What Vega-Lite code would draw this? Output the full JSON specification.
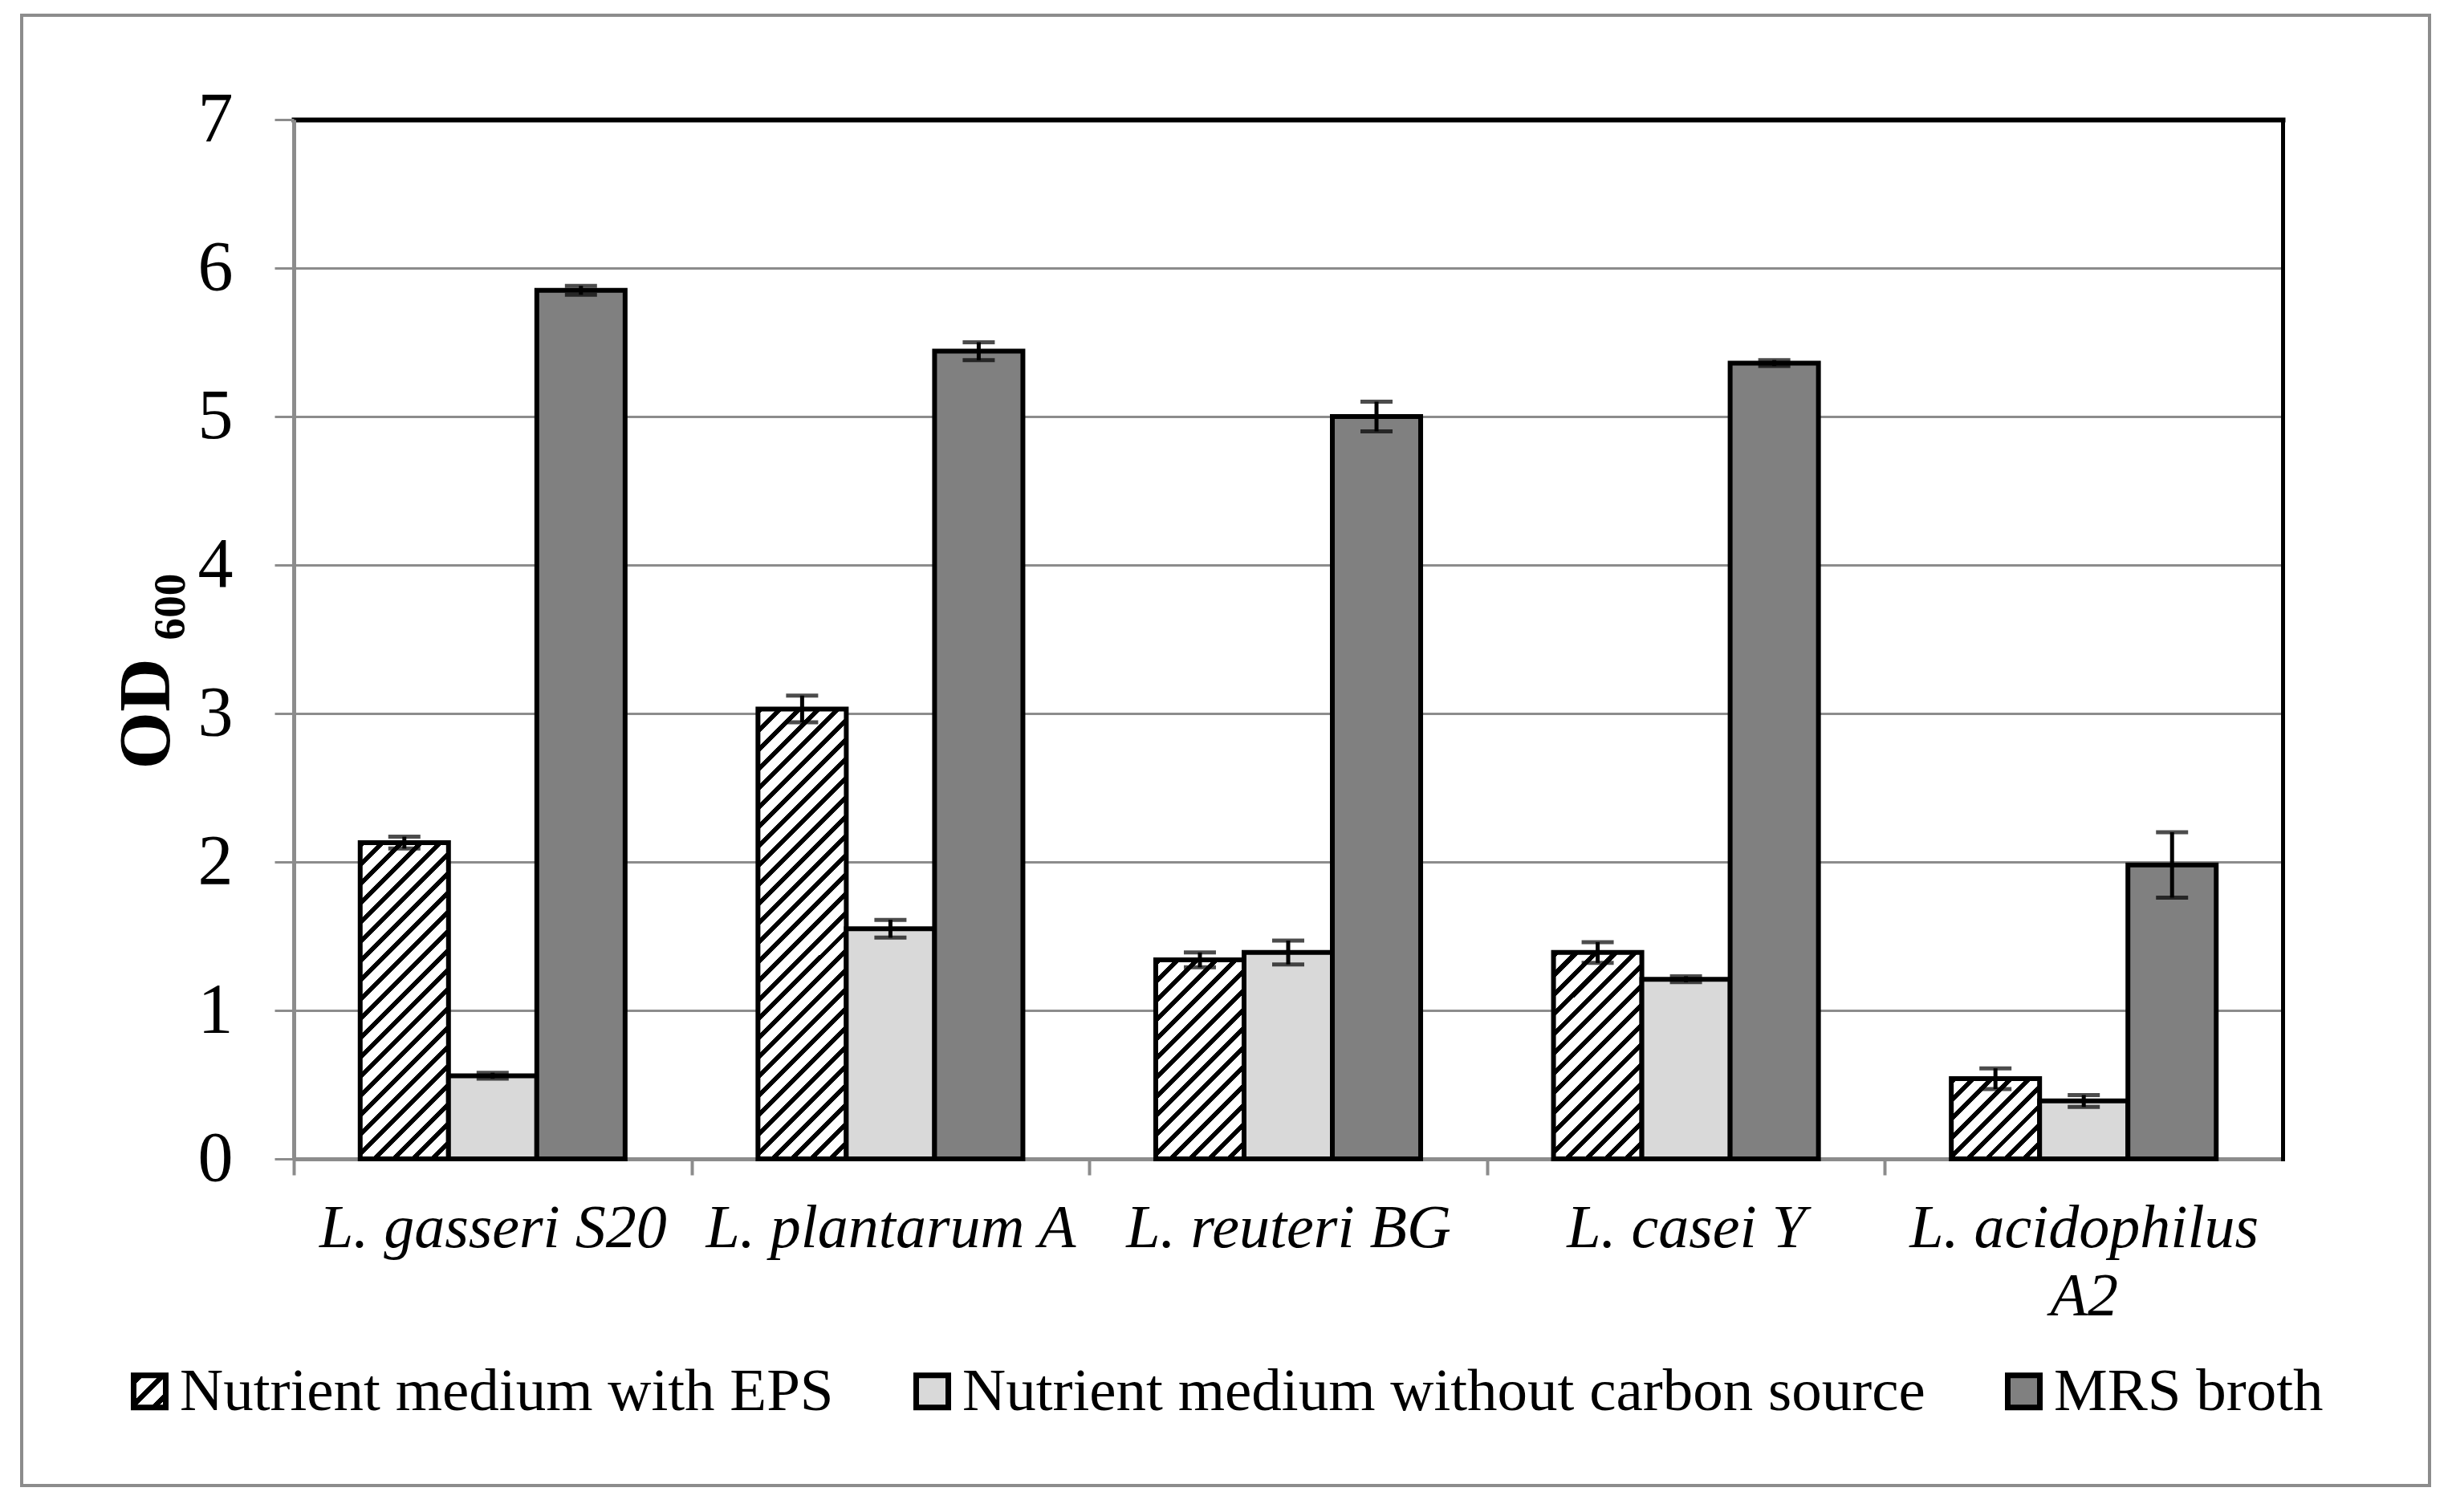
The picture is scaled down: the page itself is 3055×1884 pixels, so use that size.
{
  "$schema": "https://vega.github.io/schema/vega-lite/v6.json",
  "width": 3000,
  "height": 1832,
  "autosize": {"type": "none"},
  "padding": {"left": 27, "top": 19, "right": 28, "bottom": 33},
  "background": "white",
  "config": {
    "view": {"stroke": "#8c8c8c", "strokeWidth": 4},
    "font": "Liberation Serif"
  },
  "data": {
    "values": [
      {"strain": "L. gasseri S20", "series": "Nutrient medium with EPS", "value": 2.13, "lo": 2.09, "hi": 2.17},
      {"strain": "L. gasseri S20", "series": "Nutrient medium without carbon source", "value": 0.56, "lo": 0.54, "hi": 0.58},
      {"strain": "L. gasseri S20", "series": "MRS broth", "value": 5.85, "lo": 5.82, "hi": 5.88},
      {"strain": "L. plantarum A", "series": "Nutrient medium with EPS", "value": 3.03, "lo": 2.94, "hi": 3.12},
      {"strain": "L. plantarum A", "series": "Nutrient medium without carbon source", "value": 1.55, "lo": 1.49, "hi": 1.61},
      {"strain": "L. plantarum A", "series": "MRS broth", "value": 5.44, "lo": 5.38, "hi": 5.5},
      {"strain": "L. reuteri BG", "series": "Nutrient medium with EPS", "value": 1.34, "lo": 1.29, "hi": 1.39},
      {"strain": "L. reuteri BG", "series": "Nutrient medium without carbon source", "value": 1.39, "lo": 1.31, "hi": 1.47},
      {"strain": "L. reuteri BG", "series": "MRS broth", "value": 5.0, "lo": 4.9, "hi": 5.1},
      {"strain": "L. casei Y", "series": "Nutrient medium with EPS", "value": 1.39, "lo": 1.32, "hi": 1.46},
      {"strain": "L. casei Y", "series": "Nutrient medium without carbon source", "value": 1.21, "lo": 1.19, "hi": 1.23},
      {"strain": "L. casei Y", "series": "MRS broth", "value": 5.36, "lo": 5.34, "hi": 5.38},
      {"strain": "L. acidophilus A2", "series": "Nutrient medium with EPS", "value": 0.54, "lo": 0.47, "hi": 0.61},
      {"strain": "L. acidophilus A2", "series": "Nutrient medium without carbon source", "value": 0.39, "lo": 0.35, "hi": 0.43},
      {"strain": "L. acidophilus A2", "series": "MRS broth", "value": 1.98, "lo": 1.76, "hi": 2.2}
    ]
  },
  "layer": [
    {
      "mark": {"type": "bar", "stroke": "black", "strokeWidth": 6},
      "encoding": {
        "x": {
          "field": "strain", "type": "nominal", "sort": null,
          "scale": {"range": [339, 2817], "paddingInner": 0.334, "paddingOuter": 0.167},
          "axis": {
            "orient": "bottom", "offset": -407, "title": null, "grid": false,
            "domainColor": "#8c8c8c", "domainWidth": 5,
            "tickColor": "#8c8c8c", "tickWidth": 4, "tickSize": 20,
            "bandPosition": 0, "tickOffset": -82.76, "labelOffset": 82.76,
            "labelFont": "Liberation Serif", "labelFontSize": 76, "labelFontStyle": "italic",
            "labelColor": "black", "labelPadding": 29, "labelAngle": 0, "labelLimit": 1000,
            "labelOverlap": false, "labelLineHeight": 85,
            "labelExpr": "datum.value == 'L. acidophilus A2' ? ['L. acidophilus', 'A2'] : datum.label"
          }
        },
        "xOffset": {"field": "series", "type": "nominal", "sort": null, "scale": {"paddingInner": 0, "paddingOuter": 0}},
        "y": {
          "field": "value", "type": "quantitative",
          "scale": {"domain": [0, 7], "range": [1425, 130], "nice": false, "zero": true},
          "axis": {
            "orient": "left", "offset": -339, "values": [0, 1, 2, 3, 4, 5, 6, 7],
            "grid": true, "gridColor": "#8c8c8c", "gridWidth": 3,
            "domainColor": "#8c8c8c", "domainWidth": 5,
            "tickColor": "#8c8c8c", "tickWidth": 3, "tickSize": 24,
            "labelFont": "Liberation Serif", "labelFontSize": 88, "labelColor": "black", "labelPadding": 52,
            "title": "OD ₆₀₀", "titleFont": "Liberation Serif", "titleFontSize": 92, "titleFontWeight": "bold",
            "titleColor": "black", "titleX": -156, "titleY": 817, "titleBaseline": "alphabetic",
            "titleAngle": -90, "titleAlign": "center"
          }
        },
        "fill": {
          "condition": [
            {"test": "datum.series === 'Nutrient medium with EPS' && datum.strain === 'L. gasseri S20'",
             "value": {"gradient": "linear", "x1": 0, "y1": 0, "x2": 0.3313, "y2": 1.1867, "stops": [
              {"offset": 0, "color": "#000"}, {"offset": 0.0159, "color": "#000"}, {"offset": 0.0159, "color": "#fff"}, {"offset": 0.0476, "color": "#fff"},
              {"offset": 0.0476, "color": "#000"}, {"offset": 0.0635, "color": "#000"}, {"offset": 0.0635, "color": "#fff"}, {"offset": 0.0952, "color": "#fff"},
              {"offset": 0.0952, "color": "#000"}, {"offset": 0.1111, "color": "#000"}, {"offset": 0.1111, "color": "#fff"}, {"offset": 0.1429, "color": "#fff"},
              {"offset": 0.1429, "color": "#000"}, {"offset": 0.1587, "color": "#000"}, {"offset": 0.1587, "color": "#fff"}, {"offset": 0.1905, "color": "#fff"},
              {"offset": 0.1905, "color": "#000"}, {"offset": 0.2063, "color": "#000"}, {"offset": 0.2063, "color": "#fff"}, {"offset": 0.2381, "color": "#fff"},
              {"offset": 0.2381, "color": "#000"}, {"offset": 0.254, "color": "#000"}, {"offset": 0.254, "color": "#fff"}, {"offset": 0.2857, "color": "#fff"},
              {"offset": 0.2857, "color": "#000"}, {"offset": 0.3016, "color": "#000"}, {"offset": 0.3016, "color": "#fff"}, {"offset": 0.3333, "color": "#fff"},
              {"offset": 0.3333, "color": "#000"}, {"offset": 0.3492, "color": "#000"}, {"offset": 0.3492, "color": "#fff"}, {"offset": 0.381, "color": "#fff"},
              {"offset": 0.381, "color": "#000"}, {"offset": 0.3968, "color": "#000"}, {"offset": 0.3968, "color": "#fff"}, {"offset": 0.4286, "color": "#fff"},
              {"offset": 0.4286, "color": "#000"}, {"offset": 0.4444, "color": "#000"}, {"offset": 0.4444, "color": "#fff"}, {"offset": 0.4762, "color": "#fff"},
              {"offset": 0.4762, "color": "#000"}, {"offset": 0.4921, "color": "#000"}, {"offset": 0.4921, "color": "#fff"}, {"offset": 0.5238, "color": "#fff"},
              {"offset": 0.5238, "color": "#000"}, {"offset": 0.5397, "color": "#000"}, {"offset": 0.5397, "color": "#fff"}, {"offset": 0.5714, "color": "#fff"},
              {"offset": 0.5714, "color": "#000"}, {"offset": 0.5873, "color": "#000"}, {"offset": 0.5873, "color": "#fff"}, {"offset": 0.619, "color": "#fff"},
              {"offset": 0.619, "color": "#000"}, {"offset": 0.6349, "color": "#000"}, {"offset": 0.6349, "color": "#fff"}, {"offset": 0.6667, "color": "#fff"},
              {"offset": 0.6667, "color": "#000"}, {"offset": 0.6825, "color": "#000"}, {"offset": 0.6825, "color": "#fff"}, {"offset": 0.7143, "color": "#fff"},
              {"offset": 0.7143, "color": "#000"}, {"offset": 0.7302, "color": "#000"}, {"offset": 0.7302, "color": "#fff"}, {"offset": 0.7619, "color": "#fff"},
              {"offset": 0.7619, "color": "#000"}, {"offset": 0.7778, "color": "#000"}, {"offset": 0.7778, "color": "#fff"}, {"offset": 0.8095, "color": "#fff"},
              {"offset": 0.8095, "color": "#000"}, {"offset": 0.8254, "color": "#000"}, {"offset": 0.8254, "color": "#fff"}, {"offset": 0.8571, "color": "#fff"},
              {"offset": 0.8571, "color": "#000"}, {"offset": 0.873, "color": "#000"}, {"offset": 0.873, "color": "#fff"}, {"offset": 0.9048, "color": "#fff"},
              {"offset": 0.9048, "color": "#000"}, {"offset": 0.9206, "color": "#000"}, {"offset": 0.9206, "color": "#fff"}, {"offset": 0.9524, "color": "#fff"},
              {"offset": 0.9524, "color": "#000"}, {"offset": 0.9683, "color": "#000"}, {"offset": 0.9683, "color": "#fff"}, {"offset": 1, "color": "#fff"}
             ]}},
            {"test": "datum.series === 'Nutrient medium with EPS' && datum.strain === 'L. plantarum A'",
             "value": {"gradient": "linear", "x1": 0, "y1": 0, "x2": 0.226, "y2": 1.1519, "stops": [
              {"offset": 0, "color": "#000"}, {"offset": 0.0119, "color": "#000"}, {"offset": 0.0119, "color": "#fff"}, {"offset": 0.0357, "color": "#fff"},
              {"offset": 0.0357, "color": "#000"}, {"offset": 0.0476, "color": "#000"}, {"offset": 0.0476, "color": "#fff"}, {"offset": 0.0714, "color": "#fff"},
              {"offset": 0.0714, "color": "#000"}, {"offset": 0.0833, "color": "#000"}, {"offset": 0.0833, "color": "#fff"}, {"offset": 0.1071, "color": "#fff"},
              {"offset": 0.1071, "color": "#000"}, {"offset": 0.119, "color": "#000"}, {"offset": 0.119, "color": "#fff"}, {"offset": 0.1429, "color": "#fff"},
              {"offset": 0.1429, "color": "#000"}, {"offset": 0.1548, "color": "#000"}, {"offset": 0.1548, "color": "#fff"}, {"offset": 0.1786, "color": "#fff"},
              {"offset": 0.1786, "color": "#000"}, {"offset": 0.1905, "color": "#000"}, {"offset": 0.1905, "color": "#fff"}, {"offset": 0.2143, "color": "#fff"},
              {"offset": 0.2143, "color": "#000"}, {"offset": 0.2262, "color": "#000"}, {"offset": 0.2262, "color": "#fff"}, {"offset": 0.25, "color": "#fff"},
              {"offset": 0.25, "color": "#000"}, {"offset": 0.2619, "color": "#000"}, {"offset": 0.2619, "color": "#fff"}, {"offset": 0.2857, "color": "#fff"},
              {"offset": 0.2857, "color": "#000"}, {"offset": 0.2976, "color": "#000"}, {"offset": 0.2976, "color": "#fff"}, {"offset": 0.3214, "color": "#fff"},
              {"offset": 0.3214, "color": "#000"}, {"offset": 0.3333, "color": "#000"}, {"offset": 0.3333, "color": "#fff"}, {"offset": 0.3571, "color": "#fff"},
              {"offset": 0.3571, "color": "#000"}, {"offset": 0.369, "color": "#000"}, {"offset": 0.369, "color": "#fff"}, {"offset": 0.3929, "color": "#fff"},
              {"offset": 0.3929, "color": "#000"}, {"offset": 0.4048, "color": "#000"}, {"offset": 0.4048, "color": "#fff"}, {"offset": 0.4286, "color": "#fff"},
              {"offset": 0.4286, "color": "#000"}, {"offset": 0.4405, "color": "#000"}, {"offset": 0.4405, "color": "#fff"}, {"offset": 0.4643, "color": "#fff"},
              {"offset": 0.4643, "color": "#000"}, {"offset": 0.4762, "color": "#000"}, {"offset": 0.4762, "color": "#fff"}, {"offset": 0.5, "color": "#fff"},
              {"offset": 0.5, "color": "#000"}, {"offset": 0.5119, "color": "#000"}, {"offset": 0.5119, "color": "#fff"}, {"offset": 0.5357, "color": "#fff"},
              {"offset": 0.5357, "color": "#000"}, {"offset": 0.5476, "color": "#000"}, {"offset": 0.5476, "color": "#fff"}, {"offset": 0.5714, "color": "#fff"},
              {"offset": 0.5714, "color": "#000"}, {"offset": 0.5833, "color": "#000"}, {"offset": 0.5833, "color": "#fff"}, {"offset": 0.6071, "color": "#fff"},
              {"offset": 0.6071, "color": "#000"}, {"offset": 0.619, "color": "#000"}, {"offset": 0.619, "color": "#fff"}, {"offset": 0.6429, "color": "#fff"},
              {"offset": 0.6429, "color": "#000"}, {"offset": 0.6548, "color": "#000"}, {"offset": 0.6548, "color": "#fff"}, {"offset": 0.6786, "color": "#fff"},
              {"offset": 0.6786, "color": "#000"}, {"offset": 0.6905, "color": "#000"}, {"offset": 0.6905, "color": "#fff"}, {"offset": 0.7143, "color": "#fff"},
              {"offset": 0.7143, "color": "#000"}, {"offset": 0.7262, "color": "#000"}, {"offset": 0.7262, "color": "#fff"}, {"offset": 0.75, "color": "#fff"},
              {"offset": 0.75, "color": "#000"}, {"offset": 0.7619, "color": "#000"}, {"offset": 0.7619, "color": "#fff"}, {"offset": 0.7857, "color": "#fff"},
              {"offset": 0.7857, "color": "#000"}, {"offset": 0.7976, "color": "#000"}, {"offset": 0.7976, "color": "#fff"}, {"offset": 0.8214, "color": "#fff"},
              {"offset": 0.8214, "color": "#000"}, {"offset": 0.8333, "color": "#000"}, {"offset": 0.8333, "color": "#fff"}, {"offset": 0.8571, "color": "#fff"},
              {"offset": 0.8571, "color": "#000"}, {"offset": 0.869, "color": "#000"}, {"offset": 0.869, "color": "#fff"}, {"offset": 0.8929, "color": "#fff"},
              {"offset": 0.8929, "color": "#000"}, {"offset": 0.9048, "color": "#000"}, {"offset": 0.9048, "color": "#fff"}, {"offset": 0.9286, "color": "#fff"},
              {"offset": 0.9286, "color": "#000"}, {"offset": 0.9405, "color": "#000"}, {"offset": 0.9405, "color": "#fff"}, {"offset": 0.9643, "color": "#fff"},
              {"offset": 0.9643, "color": "#000"}, {"offset": 0.9762, "color": "#000"}, {"offset": 0.9762, "color": "#fff"}, {"offset": 1, "color": "#fff"}
             ]}},
            {"test": "datum.series === 'Nutrient medium with EPS' && datum.strain === 'L. reuteri BG'",
             "value": {"gradient": "linear", "x1": 0, "y1": 0, "x2": 0.5352, "y2": 1.2062, "stops": [
              {"offset": 0, "color": "#000"}, {"offset": 0.0222, "color": "#000"}, {"offset": 0.0222, "color": "#fff"}, {"offset": 0.0667, "color": "#fff"},
              {"offset": 0.0667, "color": "#000"}, {"offset": 0.0889, "color": "#000"}, {"offset": 0.0889, "color": "#fff"}, {"offset": 0.1333, "color": "#fff"},
              {"offset": 0.1333, "color": "#000"}, {"offset": 0.1556, "color": "#000"}, {"offset": 0.1556, "color": "#fff"}, {"offset": 0.2, "color": "#fff"},
              {"offset": 0.2, "color": "#000"}, {"offset": 0.2222, "color": "#000"}, {"offset": 0.2222, "color": "#fff"}, {"offset": 0.2667, "color": "#fff"},
              {"offset": 0.2667, "color": "#000"}, {"offset": 0.2889, "color": "#000"}, {"offset": 0.2889, "color": "#fff"}, {"offset": 0.3333, "color": "#fff"},
              {"offset": 0.3333, "color": "#000"}, {"offset": 0.3556, "color": "#000"}, {"offset": 0.3556, "color": "#fff"}, {"offset": 0.4, "color": "#fff"},
              {"offset": 0.4, "color": "#000"}, {"offset": 0.4222, "color": "#000"}, {"offset": 0.4222, "color": "#fff"}, {"offset": 0.4667, "color": "#fff"},
              {"offset": 0.4667, "color": "#000"}, {"offset": 0.4889, "color": "#000"}, {"offset": 0.4889, "color": "#fff"}, {"offset": 0.5333, "color": "#fff"},
              {"offset": 0.5333, "color": "#000"}, {"offset": 0.5556, "color": "#000"}, {"offset": 0.5556, "color": "#fff"}, {"offset": 0.6, "color": "#fff"},
              {"offset": 0.6, "color": "#000"}, {"offset": 0.6222, "color": "#000"}, {"offset": 0.6222, "color": "#fff"}, {"offset": 0.6667, "color": "#fff"},
              {"offset": 0.6667, "color": "#000"}, {"offset": 0.6889, "color": "#000"}, {"offset": 0.6889, "color": "#fff"}, {"offset": 0.7333, "color": "#fff"},
              {"offset": 0.7333, "color": "#000"}, {"offset": 0.7556, "color": "#000"}, {"offset": 0.7556, "color": "#fff"}, {"offset": 0.8, "color": "#fff"},
              {"offset": 0.8, "color": "#000"}, {"offset": 0.8222, "color": "#000"}, {"offset": 0.8222, "color": "#fff"}, {"offset": 0.8667, "color": "#fff"},
              {"offset": 0.8667, "color": "#000"}, {"offset": 0.8889, "color": "#000"}, {"offset": 0.8889, "color": "#fff"}, {"offset": 0.9333, "color": "#fff"},
              {"offset": 0.9333, "color": "#000"}, {"offset": 0.9556, "color": "#000"}, {"offset": 0.9556, "color": "#fff"}, {"offset": 1, "color": "#fff"}
             ]}},
            {"test": "datum.series === 'Nutrient medium with EPS' && datum.strain === 'L. casei Y'",
             "value": {"gradient": "linear", "x1": 0, "y1": 0, "x2": 0.5163, "y2": 1.2069, "stops": [
              {"offset": 0, "color": "#000"}, {"offset": 0.0222, "color": "#000"}, {"offset": 0.0222, "color": "#fff"}, {"offset": 0.0667, "color": "#fff"},
              {"offset": 0.0667, "color": "#000"}, {"offset": 0.0889, "color": "#000"}, {"offset": 0.0889, "color": "#fff"}, {"offset": 0.1333, "color": "#fff"},
              {"offset": 0.1333, "color": "#000"}, {"offset": 0.1556, "color": "#000"}, {"offset": 0.1556, "color": "#fff"}, {"offset": 0.2, "color": "#fff"},
              {"offset": 0.2, "color": "#000"}, {"offset": 0.2222, "color": "#000"}, {"offset": 0.2222, "color": "#fff"}, {"offset": 0.2667, "color": "#fff"},
              {"offset": 0.2667, "color": "#000"}, {"offset": 0.2889, "color": "#000"}, {"offset": 0.2889, "color": "#fff"}, {"offset": 0.3333, "color": "#fff"},
              {"offset": 0.3333, "color": "#000"}, {"offset": 0.3556, "color": "#000"}, {"offset": 0.3556, "color": "#fff"}, {"offset": 0.4, "color": "#fff"},
              {"offset": 0.4, "color": "#000"}, {"offset": 0.4222, "color": "#000"}, {"offset": 0.4222, "color": "#fff"}, {"offset": 0.4667, "color": "#fff"},
              {"offset": 0.4667, "color": "#000"}, {"offset": 0.4889, "color": "#000"}, {"offset": 0.4889, "color": "#fff"}, {"offset": 0.5333, "color": "#fff"},
              {"offset": 0.5333, "color": "#000"}, {"offset": 0.5556, "color": "#000"}, {"offset": 0.5556, "color": "#fff"}, {"offset": 0.6, "color": "#fff"},
              {"offset": 0.6, "color": "#000"}, {"offset": 0.6222, "color": "#000"}, {"offset": 0.6222, "color": "#fff"}, {"offset": 0.6667, "color": "#fff"},
              {"offset": 0.6667, "color": "#000"}, {"offset": 0.6889, "color": "#000"}, {"offset": 0.6889, "color": "#fff"}, {"offset": 0.7333, "color": "#fff"},
              {"offset": 0.7333, "color": "#000"}, {"offset": 0.7556, "color": "#000"}, {"offset": 0.7556, "color": "#fff"}, {"offset": 0.8, "color": "#fff"},
              {"offset": 0.8, "color": "#000"}, {"offset": 0.8222, "color": "#000"}, {"offset": 0.8222, "color": "#fff"}, {"offset": 0.8667, "color": "#fff"},
              {"offset": 0.8667, "color": "#000"}, {"offset": 0.8889, "color": "#000"}, {"offset": 0.8889, "color": "#fff"}, {"offset": 0.9333, "color": "#fff"},
              {"offset": 0.9333, "color": "#000"}, {"offset": 0.9556, "color": "#000"}, {"offset": 0.9556, "color": "#fff"}, {"offset": 1, "color": "#fff"}
             ]}},
            {"test": "datum.series === 'Nutrient medium with EPS' && datum.strain === 'L. acidophilus A2'",
             "value": {"gradient": "linear", "x1": 0, "y1": 0, "x2": 1.0457, "y2": 0.9497, "stops": [
              {"offset": 0, "color": "#000"}, {"offset": 0.037, "color": "#000"}, {"offset": 0.037, "color": "#fff"}, {"offset": 0.1111, "color": "#fff"},
              {"offset": 0.1111, "color": "#000"}, {"offset": 0.1481, "color": "#000"}, {"offset": 0.1481, "color": "#fff"}, {"offset": 0.2222, "color": "#fff"},
              {"offset": 0.2222, "color": "#000"}, {"offset": 0.2593, "color": "#000"}, {"offset": 0.2593, "color": "#fff"}, {"offset": 0.3333, "color": "#fff"},
              {"offset": 0.3333, "color": "#000"}, {"offset": 0.3704, "color": "#000"}, {"offset": 0.3704, "color": "#fff"}, {"offset": 0.4444, "color": "#fff"},
              {"offset": 0.4444, "color": "#000"}, {"offset": 0.4815, "color": "#000"}, {"offset": 0.4815, "color": "#fff"}, {"offset": 0.5556, "color": "#fff"},
              {"offset": 0.5556, "color": "#000"}, {"offset": 0.5926, "color": "#000"}, {"offset": 0.5926, "color": "#fff"}, {"offset": 0.6667, "color": "#fff"},
              {"offset": 0.6667, "color": "#000"}, {"offset": 0.7037, "color": "#000"}, {"offset": 0.7037, "color": "#fff"}, {"offset": 0.7778, "color": "#fff"},
              {"offset": 0.7778, "color": "#000"}, {"offset": 0.8148, "color": "#000"}, {"offset": 0.8148, "color": "#fff"}, {"offset": 0.8889, "color": "#fff"},
              {"offset": 0.8889, "color": "#000"}, {"offset": 0.9259, "color": "#000"}, {"offset": 0.9259, "color": "#fff"}, {"offset": 1, "color": "#fff"}
             ]}}
          ],
          "field": "series", "type": "nominal",
          "scale": {
            "domain": ["Nutrient medium with EPS", "Nutrient medium without carbon source", "MRS broth"],
            "range": [
              {"expr": "{gradient: 'linear', x1: 0, y1: 0, x2: 1, y2: 1, stops: [{offset: 0.05, color: '#fff'}, {offset: 0.05, color: '#000'}, {offset: 0.17, color: '#000'}, {offset: 0.17, color: '#fff'}, {offset: 0.4, color: '#fff'}, {offset: 0.4, color: '#000'}, {offset: 0.52, color: '#000'}, {offset: 0.52, color: '#fff'}, {offset: 0.75, color: '#fff'}, {offset: 0.75, color: '#000'}, {offset: 0.87, color: '#000'}, {offset: 0.87, color: '#fff'}]}"},
              "#d9d9d9", "#808080"
            ]
          },
          "legend": {
            "orient": "none", "legendX": 122, "legendY": 1677, "direction": "horizontal", "title": null,
            "symbolType": "square", "symbolSize": 1600, "symbolStrokeColor": "black", "symbolStrokeWidth": 7,
            "labelFont": "Liberation Serif", "labelFontSize": 75, "labelColor": "black", "labelOffset": 0,
            "labelLimit": 2000, "columnPadding": 85, "padding": 0
          }
        }
      }
    },
    {
      "mark": {"type": "rule", "stroke": "black", "strokeWidth": 5},
      "encoding": {
        "x": {
          "field": "strain", "type": "nominal", "sort": null,
          "axis": {"orient": "top", "offset": -130, "domainColor": "black", "domainWidth": 6, "domainCap": "square",
                   "ticks": false, "labels": false, "grid": false, "title": null}
        },
        "xOffset": {"field": "series", "type": "nominal", "sort": null},
        "y": {
          "field": "lo", "type": "quantitative",
          "axis": {"orient": "right", "offset": -183, "domainColor": "black", "domainWidth": 5, "domainCap": "square",
                   "ticks": false, "labels": false, "grid": false, "title": null}
        },
        "y2": {"field": "hi"}
      }
    },
    {
      "mark": {"type": "tick", "color": "black", "thickness": 5, "size": 40},
      "encoding": {
        "x": {"field": "strain", "type": "nominal", "sort": null, "axis": null},
        "xOffset": {"field": "series", "type": "nominal", "sort": null},
        "y": {"field": "lo", "type": "quantitative", "axis": null}
      }
    },
    {
      "mark": {"type": "tick", "color": "black", "thickness": 5, "size": 40},
      "encoding": {
        "x": {"field": "strain", "type": "nominal", "sort": null, "axis": null},
        "xOffset": {"field": "series", "type": "nominal", "sort": null},
        "y": {"field": "hi", "type": "quantitative", "axis": null}
      }
    }
  ],
  "resolve": {"axis": {"x": "independent", "y": "independent"}}
}
